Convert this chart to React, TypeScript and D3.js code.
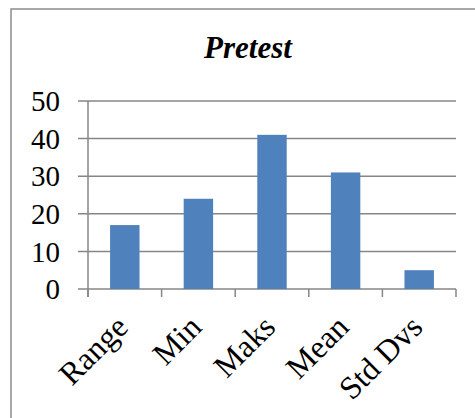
import React from "react";
import * as d3 from "d3";

const categories = ["Range", "Min", "Maks", "Mean", "Std Dvs"];
const values = [17, 24, 41, 31, 5];
const yTicks = [0, 10, 20, 30, 40, 50];
const title = "Pretest";

export default function App() {
  const W = 475, H = 418;
  const left = 88, right = 456, top = 101, bottom = 289;
  const x = d3.scaleBand<string>().domain(categories).range([left, right]).paddingInner(0.6).paddingOuter(0.3);
  const xb = d3.scaleBand<string>().domain(categories).range([left, right]);
  const y = d3.scaleLinear().domain([0, 50]).range([bottom, top]);
  const grid = "#868686";
  const font = "'Liberation Serif', 'Times New Roman', serif";
  const edges = [...categories.map((c) => xb(c) as number), right];
  return (
    <svg width={W} height={H} style={{ position: "absolute", left: 0, top: 0 }} fontFamily={font}>
      <rect x={0} y={0} width={W} height={H} fill="#fff" />
      <rect x={11} y={9} width={480} height={430} fill="#fff" stroke="#8c8c8c" strokeWidth={1.5} />
      <text x={248} y={58} textAnchor="middle" fontSize={31} fontWeight="bold" fontStyle="italic">{title}</text>
      {yTicks.map((t) => (
        <g key={t}>
          <line x1={78} x2={right} y1={y(t)} y2={y(t)} stroke={grid} strokeWidth={1.5} />
          <text x={60} y={y(t)} dy="0.35em" textAnchor="end" fontSize={29}>{t}</text>
        </g>
      ))}
      <line x1={left} x2={left} y1={top} y2={bottom + 8} stroke={grid} strokeWidth={1.5} />
      {edges.map((e, i) => (
        <line key={i} x1={e} x2={e} y1={bottom} y2={bottom + 8} stroke={grid} strokeWidth={1.5} />
      ))}
      {categories.map((c, i) => (
        <rect key={c} x={x(c)} y={y(values[i])} width={x.bandwidth()} height={y(0) - y(values[i])} fill="#4F81BD" />
      ))}
      {categories.map((c) => {
        const cx = (xb(c) as number) + xb.bandwidth() / 2 + 5;
        const cy = 329;
        return (
          <text key={c} transform={`translate(${cx},${cy}) rotate(-45)`} textAnchor="end" fontSize={32}>{c}</text>
        );
      })}
    </svg>
  );
}
